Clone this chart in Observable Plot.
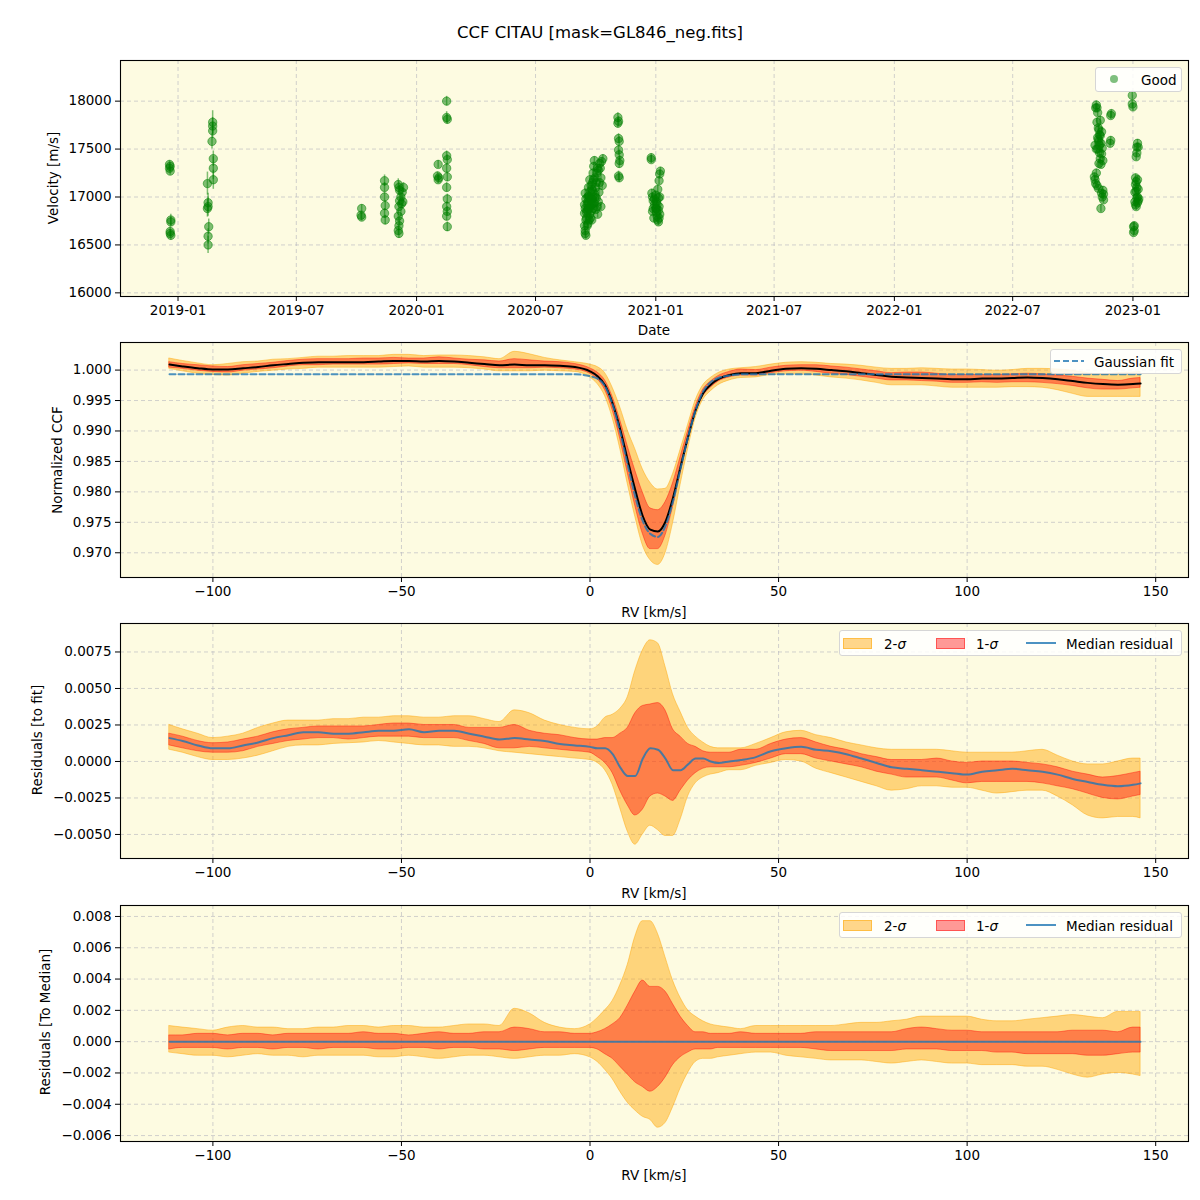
<!DOCTYPE html>
<html>
<head>
<meta charset="utf-8">
<script src="https://cdn.jsdelivr.net/npm/d3@7"></script>
<script src="https://cdn.jsdelivr.net/npm/@observablehq/plot@0.6"></script>
<style>
  html, body { margin: 0; padding: 0; background: #ffffff; }
  body { width: 1200px; height: 1200px; position: relative; font-family: "DejaVu Sans", sans-serif; color: #000; overflow: hidden; }
  .abs { position: absolute; }
  .lbl { position: absolute; font-size: 13.5px; white-space: nowrap; transform: translate(-50%, -50%); }
  .ylbl { position: absolute; font-size: 13.5px; white-space: nowrap; transform: translate(-50%, -50%) rotate(-90deg); }
  .legend { position: absolute; background: rgba(255,255,255,0.85); border: 1px solid #d6d6d6; border-radius: 3px; box-sizing: border-box; }
  .legtxt { position: absolute; font-size: 13.5px; white-space: nowrap; transform: translateY(-50%); }
</style>
</head>
<body>
<script>
// ---------------- data ----------------
const chartTitle = "CCF CITAU [mask=GL846_neg.fits]";

// Panel 1: observations (date, velocity m/s, error m/s)
const obsDate = [
"2018-12-19","2018-12-19","2018-12-20","2018-12-20","2018-12-21","2018-12-21","2018-12-20","2018-12-21","2018-12-20",
"2019-02-15","2019-02-16","2019-02-16","2019-02-15","2019-02-17","2019-02-16","2019-02-16","2019-02-23","2019-02-23","2019-02-23","2019-02-22","2019-02-24","2019-02-24","2019-02-24",
"2019-10-09","2019-10-09","2019-10-08",
"2019-11-13","2019-11-13","2019-11-13","2019-11-14","2019-11-13","2019-11-14",
"2019-12-04","2019-12-05","2019-12-06","2019-12-08","2019-12-06","2019-12-09","2019-12-05","2019-12-08","2019-12-04","2019-12-06","2019-12-05","2019-12-04","2019-12-05","2019-12-11","2019-12-10","2019-12-12",
"2020-02-03","2020-02-02","2020-02-03","2020-02-04",
"2020-02-16","2020-02-16","2020-02-17","2020-02-16","2020-02-17","2020-02-16","2020-02-17","2020-02-16","2020-02-17","2020-02-16","2020-02-17","2020-02-16","2020-02-17",
"2020-09-15","2020-09-16","2020-09-15","2020-09-14","2020-09-15","2020-09-14","2020-09-16","2020-09-15","2020-09-17","2020-09-18","2020-09-19","2020-09-20","2020-09-18","2020-09-21","2020-09-22","2020-09-23","2020-09-24","2020-09-25","2020-09-26","2020-09-27","2020-09-28","2020-09-29","2020-09-30","2020-10-01","2020-10-02","2020-10-03","2020-10-04","2020-10-05","2020-10-06","2020-10-07","2020-10-08","2020-10-10","2020-10-12","2020-10-11","2020-10-09","2020-09-25","2020-09-27","2020-10-03","2020-09-20","2020-10-04","2020-09-22","2020-09-24","2020-09-26","2020-09-29","2020-10-01",
"2020-09-14","2020-09-16","2020-09-17","2020-09-18","2020-09-19","2020-09-20","2020-09-21","2020-09-22","2020-09-23","2020-09-24","2020-09-25","2020-09-26","2020-09-27","2020-09-28","2020-09-30","2020-10-02","2020-10-05","2020-10-07","2020-09-19","2020-09-23","2020-09-28","2020-10-09",
"2020-11-04","2020-11-05","2020-11-04","2020-11-05","2020-11-06","2020-11-05","2020-11-06","2020-11-07","2020-11-06","2020-11-05","2020-11-06",
"2020-12-25","2020-12-25","2021-01-08","2021-01-07","2021-01-06","2020-12-26","2020-12-27","2020-12-28","2020-12-30","2021-01-01","2021-01-02","2021-01-03","2021-01-04","2021-01-05","2021-01-02","2021-01-05","2021-01-06","2020-12-29","2021-01-04","2021-01-07","2020-12-27",
"2020-12-30","2021-01-01","2021-01-03","2021-01-06","2021-01-07","2020-12-28","2021-01-02","2021-01-05",
"2022-11-06","2022-11-07","2022-11-08","2022-11-12","2022-11-29","2022-11-28","2022-11-10","2022-11-11","2022-11-09","2022-11-04","2022-11-06","2022-11-13","2022-11-15","2022-11-14","2022-11-12","2022-11-16","2022-11-28","2022-11-27","2022-11-03","2022-11-04","2022-11-05","2022-11-09","2022-11-16","2022-11-15","2022-11-17","2022-11-13","2022-11-08","2022-11-10","2022-11-14",
"2022-11-05","2022-11-07","2022-11-09","2022-11-08","2022-11-10","2022-11-11","2022-11-12","2022-11-13","2022-11-14","2022-11-06","2022-11-07","2022-11-17","2022-11-11",
"2022-12-31","2022-12-31","2023-01-01","2023-01-08","2023-01-09","2023-01-07","2023-01-06","2023-01-05","2023-01-06","2023-01-07","2023-01-04","2023-01-08","2023-01-09","2023-01-05","2023-01-10","2023-01-06","2023-01-02","2023-01-03","2023-01-02",
"2023-01-05","2023-01-06","2023-01-07","2023-01-08","2023-01-09","2023-01-04","2023-01-07","2023-01-03","2023-01-08"
];
const obsVel = [
17340,17300,17270,17320,16760,16740,16640,16600,16620,
17140,16940,16900,16880,16690,16590,16500,17780,17740,17690,17580,17400,17300,17180,
16880,16790,16810,
17170,17100,17000,16910,16830,16760,
17130,17100,17070,17000,16960,16930,16900,16850,16800,16750,16700,16650,16620,16950,17050,17100,
17340,17220,17180,17200,
18000,17830,17810,17430,17390,17300,17210,17100,16980,16900,16850,16800,16690,
16620,16600,16650,16830,16880,16920,16980,17040,16780,16860,16950,17010,16700,16760,16820,16900,16980,17080,17150,17250,17320,17380,17200,17100,16990,16900,16820,16950,17050,17150,17300,17370,17400,17120,16900,16760,16880,17250,17100,17300,17180,16850,16930,17030,16870,
16700,16760,16840,16920,17000,16880,16940,17000,17060,17120,16920,16980,17060,16940,17000,17150,17280,17350,16720,16780,17180,17200,
17830,17790,17770,17610,17580,17490,17440,17380,17350,17220,17200,
17410,17390,17270,17240,17170,17040,17000,16960,16920,16880,16840,16800,16760,16740,16950,16990,16900,16780,17080,16820,16850,
16980,17020,16920,16780,17000,16880,16880,16860,
17960,17930,17880,17800,17870,17850,17700,17650,17600,17540,17500,17560,17510,17450,17400,17380,17590,17560,17210,17180,17140,17090,17070,17000,16970,16880,17620,17350,17040,
17930,17780,17720,17500,17580,17460,17640,17340,17680,17250,17120,17030,17540,
18060,17970,17940,17560,17520,17460,17420,17200,17160,17100,17050,17000,16960,16920,16980,16900,16690,16650,16630,
17130,17060,16990,17180,17080,16950,17520,16700,16940
];
const obsErr = [
40,40,40,40,60,50,50,50,40,
120,100,100,90,80,80,90,120,90,80,80,80,120,100,
40,40,40,
60,50,50,50,50,50,
60,60,50,50,50,50,50,50,50,50,50,50,50,50,50,50,
40,40,40,40,
50,60,50,50,50,50,50,50,50,50,50,50,50,
40,40,40,40,40,40,40,40,40,40,40,40,40,40,40,40,40,40,40,40,40,40,40,40,40,40,40,40,40,40,40,40,40,40,40,40,40,40,40,40,40,40,40,40,40,
40,40,40,40,40,40,40,40,40,40,40,40,40,40,40,40,40,40,40,40,40,40,
50,50,50,50,50,50,50,50,50,50,50,
40,40,40,40,40,40,40,40,40,40,40,40,40,40,40,40,40,40,40,40,40,
40,40,40,40,40,40,40,40,
40,40,40,40,40,40,40,40,40,40,40,40,40,40,40,40,40,40,40,40,40,40,40,40,40,40,40,40,40,
40,40,40,40,40,40,40,40,40,40,40,40,40,
40,40,40,40,40,40,40,40,40,40,40,40,40,40,40,40,40,40,40,
40,40,40,40,40,40,40,40,40
];

// Panels 2-4: CCF vs RV [km/s]
const rv = [-111.5,-108,-104,-100,-96,-92,-88,-84,-80,-76,-72,-68,-64,-60,-56,-52,-48,-44,-40,-36,-32,-28,-24,-20,-16,-12,-8,-4,0,
  2,4,6,8,10,12,14,16,18,20,22,24,26,28,30,32,34,37,40,
  44,48,52,56,60,64,68,72,76,80,84,88,92,96,100,104,108,112,116,120,124,128,132,136,140,144,146];

const ccfMedian = [1.0009,1.0006,1.0003,1.0001,1.0001,1.0003,1.0005,1.0008,1.0010,1.0012,1.0013,1.0013,1.0013,1.0013,1.0014,1.0015,1.0015,1.0014,1.0015,1.0014,1.0012,1.0010,1.0008,1.0009,1.0008,1.0008,1.0007,1.0005,0.9998,
  0.9990,0.9975,0.9945,0.9903,0.9852,0.9803,0.9760,0.9738,0.9735,0.9751,0.9790,0.9841,0.9890,0.9934,0.9962,0.9976,0.9985,0.9992,0.9995,
  0.9995,0.9999,1.0002,1.0003,1.0002,1.0000,0.9998,0.9995,0.9992,0.9989,0.9988,0.9987,0.9986,0.9985,0.9985,0.9986,0.9986,0.9987,0.9988,0.9987,0.9985,0.9982,0.9979,0.9977,0.9976,0.9977,0.9978];

const gaussFit = [0.9993,0.9993,0.9993,0.9993,0.9993,0.9993,0.9993,0.9993,0.9993,0.9993,0.9993,0.9993,0.9993,0.9993,0.9993,0.9993,0.9993,0.9993,0.9993,0.9993,0.9993,0.9993,0.9993,0.9993,0.9993,0.9993,0.9993,0.9993,0.9990,
  0.9986,0.9973,0.9943,0.9898,0.9844,0.9792,0.9752,0.9731,0.9726,0.9744,0.9784,0.9838,0.9890,0.9934,0.9965,0.9980,0.9987,0.9991,0.9993,
  0.9993,0.9993,0.9993,0.9993,0.9993,0.9993,0.9993,0.9993,0.9993,0.9993,0.9993,0.9993,0.9993,0.9993,0.9993,0.9993,0.9993,0.9993,0.9993,0.9993,0.9993,0.9993,0.9993,0.9993,0.9993,0.9993,0.9993];

// Panel 3: residuals to fit
const residMedian = [0.0016,0.0014,0.0011,0.0009,0.0009,0.0011,0.0013,0.0016,0.0018,0.0020,0.0020,0.0019,0.0019,0.0020,0.0021,0.0021,0.0022,0.0020,0.0021,0.0021,0.0019,0.0017,0.0015,0.0016,0.0015,0.0014,0.0012,0.0011,0.0010,
  0.0009,0.0009,0.0005,-0.0004,-0.0010,-0.0010,0.0002,0.0009,0.0008,0.0002,-0.0006,-0.0006,-0.0002,0.0002,0.0002,0.0000,-0.0001,0.0000,0.0001,
  0.0003,0.0007,0.0009,0.0010,0.0008,0.0007,0.0005,0.0002,-0.0001,-0.0004,-0.0005,-0.0006,-0.0007,-0.0008,-0.0009,-0.0007,-0.0006,-0.0005,-0.0006,-0.0007,-0.0009,-0.0012,-0.0014,-0.0016,-0.0017,-0.0016,-0.0015];
const resid1Hi = [0.0019,0.0017,0.0014,0.00125,0.0013,0.0015,0.0017,0.0020,0.0022,0.0023,0.0024,0.0024,0.0024,0.0024,0.0025,0.0026,0.0026,0.0025,0.0025,0.0025,0.0023,0.0023,0.0023,0.0025,0.0021,0.0019,0.0018,0.0016,0.0015,
  0.0015,0.0016,0.0016,0.0019,0.0023,0.0033,0.0038,0.0039,0.0040,0.0035,0.0022,0.0017,0.0012,0.0010,0.0007,0.0006,0.0006,0.0006,0.0008,
  0.0008,0.0012,0.0015,0.0016,0.0013,0.0010,0.0008,0.0005,0.0003,0.0001,0.0001,0.0001,0.0002,0.0000,-0.0001,0.0000,0.0000,0.0000,-0.0001,-0.0002,-0.0004,-0.0007,-0.0009,-0.0011,-0.0010,-0.0008,-0.0007];
const resid1Lo = [0.0011,0.0009,0.0007,0.0006,0.0006,0.0007,0.0010,0.0012,0.0014,0.0015,0.0016,0.0016,0.0015,0.0016,0.0017,0.0017,0.0017,0.0016,0.0016,0.0016,0.0014,0.0012,0.0009,0.0009,0.0010,0.0009,0.0008,0.0007,0.0006,
  0.0003,-0.0001,-0.0008,-0.0020,-0.0030,-0.0037,-0.0033,-0.0024,-0.0022,-0.0024,-0.0027,-0.0020,-0.0013,-0.0008,-0.0005,-0.0004,-0.0004,-0.0004,-0.0003,
  -0.0001,0.0002,0.0005,0.0005,0.0002,0.0000,-0.0002,-0.0004,-0.0007,-0.0009,-0.0011,-0.0011,-0.0011,-0.0013,-0.0015,-0.0014,-0.0014,-0.0014,-0.0014,-0.0015,-0.0017,-0.0019,-0.0022,-0.0025,-0.0026,-0.0024,-0.0023];
const resid2Hi = [0.0025,0.0022,0.0019,0.0016,0.0017,0.0019,0.0023,0.0026,0.0028,0.0028,0.0028,0.0029,0.0029,0.0030,0.0030,0.0031,0.0031,0.0030,0.0030,0.0031,0.0031,0.0029,0.0027,0.0035,0.0033,0.0028,0.0025,0.0023,0.0022,
  0.0024,0.0030,0.0032,0.0036,0.0044,0.0062,0.0076,0.0083,0.0081,0.0065,0.0046,0.0034,0.0023,0.0017,0.0013,0.0010,0.0009,0.0009,0.0009,
  0.0012,0.0016,0.0020,0.0021,0.0018,0.0016,0.0013,0.0011,0.0009,0.0008,0.0008,0.0008,0.0008,0.0007,0.0006,0.0006,0.0006,0.0006,0.0007,0.0008,0.0004,0.0000,-0.0002,-0.0002,0.0000,0.0002,0.0002];
const resid2Lo = [0.0008,0.0006,0.0003,0.0001,0.0001,0.0002,0.0004,0.0007,0.0010,0.0011,0.0011,0.0012,0.00125,0.0013,0.0014,0.0013,0.0012,0.0011,0.0011,0.0010,0.0010,0.0009,0.0007,0.0006,0.0005,0.0004,0.0003,0.0002,0.0001,
  -0.0001,-0.0006,-0.0016,-0.0032,-0.0048,-0.0057,-0.0050,-0.0044,-0.0047,-0.0051,-0.0051,-0.0040,-0.0024,-0.0015,-0.0011,-0.0009,-0.0008,-0.0006,-0.0006,
  -0.0003,-0.0001,0.0001,0.0000,-0.0005,-0.0008,-0.0011,-0.0014,-0.0017,-0.0020,-0.0019,-0.0017,-0.0017,-0.0018,-0.0018,-0.0020,-0.0022,-0.0021,-0.0020,-0.0020,-0.0024,-0.0030,-0.0037,-0.0039,-0.0038,-0.0038,-0.0039];

// Panel 4: residuals to median (spread of individual CCFs around the median)
const dev1Hi = [0.0004,0.0004,0.0005,0.0005,0.0004,0.0005,0.0005,0.0004,0.0005,0.0005,0.0005,0.0005,0.0005,0.0006,0.0005,0.0005,0.0004,0.0005,0.0006,0.0005,0.0005,0.0006,0.0006,0.0009,0.0008,0.0006,0.0006,0.0005,0.0005,
  0.0006,0.0008,0.0011,0.0015,0.0023,0.0032,0.0039,0.0035,0.0035,0.0032,0.0024,0.0016,0.0010,0.0006,0.0006,0.0005,0.0005,0.0005,0.0006,
  0.0005,0.0005,0.0005,0.0005,0.0006,0.0006,0.0006,0.0006,0.0006,0.0006,0.0008,0.0009,0.0008,0.0007,0.0007,0.0006,0.0006,0.0006,0.0006,0.0006,0.0006,0.0007,0.0007,0.0007,0.0006,0.0009,0.0009];
const dev1Lo = [-0.0005,-0.0004,-0.0004,-0.0004,-0.0005,-0.0004,-0.0004,-0.0005,-0.0004,-0.0004,-0.0005,-0.0004,-0.0004,-0.0004,-0.0005,-0.0005,-0.0004,-0.0004,-0.0005,-0.0004,-0.0004,-0.0005,-0.0005,-0.0006,-0.0005,-0.0004,-0.0004,-0.0004,-0.0004,
  -0.0005,-0.0008,-0.0011,-0.0016,-0.0021,-0.0026,-0.0029,-0.0032,-0.0029,-0.0023,-0.0015,-0.0010,-0.0007,-0.0005,-0.0005,-0.0005,-0.0004,-0.0004,-0.0004,
  -0.0004,-0.0004,-0.0004,-0.0004,-0.0005,-0.0006,-0.0006,-0.0006,-0.0006,-0.0006,-0.0005,-0.0005,-0.0005,-0.0006,-0.0006,-0.0006,-0.0007,-0.0007,-0.0008,-0.0008,-0.0008,-0.0008,-0.0009,-0.0009,-0.0008,-0.0007,-0.0007];
const dev2Hi = [0.0010,0.0009,0.0008,0.0007,0.0009,0.0010,0.0009,0.0009,0.0008,0.0008,0.0009,0.0009,0.0010,0.0010,0.0009,0.0010,0.0010,0.0009,0.0009,0.0010,0.0011,0.0011,0.0010,0.0021,0.0018,0.0012,0.0009,0.0008,0.0011,
  0.0015,0.0020,0.0026,0.0036,0.0049,0.0067,0.0077,0.0077,0.0069,0.0054,0.0039,0.0028,0.0020,0.0016,0.0013,0.0011,0.0010,0.0009,0.0008,
  0.0010,0.0010,0.0010,0.0010,0.0010,0.0010,0.0011,0.0012,0.0012,0.0013,0.0014,0.0016,0.0016,0.0016,0.0016,0.0014,0.0013,0.0013,0.0014,0.0015,0.0016,0.0017,0.0016,0.0015,0.0019,0.0019,0.0019];
const dev2Lo = [-0.0007,-0.0008,-0.0009,-0.0009,-0.0010,-0.0009,-0.0008,-0.0009,-0.0009,-0.0010,-0.0009,-0.0009,-0.0009,-0.0009,-0.0010,-0.0010,-0.0009,-0.0010,-0.0011,-0.0010,-0.0009,-0.0009,-0.0010,-0.0011,-0.0010,-0.0009,-0.0009,-0.0008,-0.0010,
  -0.0013,-0.0018,-0.0024,-0.0032,-0.0039,-0.0044,-0.0048,-0.0050,-0.0055,-0.0052,-0.0042,-0.0030,-0.0020,-0.0013,-0.0011,-0.0011,-0.0010,-0.0009,-0.0008,
  -0.0007,-0.0007,-0.0009,-0.0010,-0.0011,-0.0012,-0.0012,-0.0012,-0.0013,-0.0014,-0.0013,-0.0012,-0.0013,-0.0014,-0.0014,-0.0015,-0.0015,-0.0015,-0.0016,-0.0016,-0.0018,-0.0021,-0.0023,-0.0021,-0.0020,-0.0021,-0.0022];

// tick labels
const dateTicks = ["2019-01-01","2019-07-01","2020-01-01","2020-07-01","2021-01-01","2021-07-01","2022-01-01","2022-07-01","2023-01-01"];
const velTicks = [16000,16500,17000,17500,18000];
const rvTicks = [-100,-50,0,50,100,150];
const ccfTicks = [0.970,0.975,0.980,0.985,0.990,0.995,1.000];
const residTicks = [-0.0050,-0.0025,0,0.0025,0.0050,0.0075];
const devTicks = [-0.006,-0.004,-0.002,0,0.002,0.004,0.006,0.008];

// ---------------- styling ----------------
const BG = "#fdfbe1";
const GRID = "#b8b8c0";
const ORANGE = "orange", RED = "red", C0 = "#1f77b4";
const FONT = "DejaVu Sans, sans-serif";
const fmtFixed = n => d => (d < 0 ? "\u2212" : "") + Math.abs(d).toFixed(n);
const fmtInt = d => (d < 0 ? "\u2212" : "") + Math.abs(d).toFixed(0);

function place(el, top) {
  el.style.position = "absolute";
  el.style.left = "0px";
  el.style.top = top + "px";
  document.body.appendChild(el);
}
function addDiv(cls, html, left, top, extra) {
  const d = document.createElement("div");
  d.className = cls;
  d.innerHTML = html;
  d.style.left = left + "px";
  d.style.top = top + "px";
  if (extra) Object.assign(d.style, extra);
  document.body.appendChild(d);
  return d;
}

function basePlot(opts) {
  const {frameH, x, y, xTicks, yTicks, xFmt, yFmt, marks} = opts;
  return Plot.plot({
    width: 1200,
    height: 10 + frameH + 46,
    marginLeft: 120, marginRight: 12, marginTop: 10, marginBottom: 46,
    style: {fontFamily: FONT, fontSize: "13.5px", color: "#000", background: "transparent", overflow: "visible"},
    x, y,
    marks: [
      Plot.frame({fill: BG}),
      Plot.gridX(xTicks, {stroke: GRID, strokeOpacity: 0.7, strokeWidth: 0.9, strokeDasharray: "4,3"}),
      Plot.gridY(yTicks, {stroke: GRID, strokeOpacity: 0.7, strokeWidth: 0.9, strokeDasharray: "4,3"}),
      ...marks,
      Plot.frame({stroke: "#000", strokeWidth: 1.1}),
      Plot.axisX(xTicks, {tickSize: 5, tickPadding: 4, tickFormat: xFmt, label: null, stroke: "#000"}),
      Plot.axisY(yTicks, {tickSize: 5, tickPadding: 4, tickFormat: yFmt, label: null, stroke: "#000"})
    ]
  });
}

// title
addDiv("lbl", chartTitle, 600, 32, {fontSize: "16.5px"});

// ---------------- Panel 1 ----------------
const obs = obsDate.map((d, i) => ({date: new Date(d), v: obsVel[i], e: obsErr[i]}));
const p1 = basePlot({
  frameH: 236,
  x: {type: "utc", domain: [new Date("2018-10-05"), new Date("2023-03-27")]},
  y: {domain: [15962, 18424]},
  xTicks: dateTicks.map(d => new Date(d)),
  yTicks: velTicks,
  xFmt: d3.utcFormat("%Y-%m"),
  yFmt: fmtInt,
  marks: [
    Plot.ruleX(obs, {x: "date", y1: d => d.v - d.e, y2: d => d.v + d.e, stroke: "green", strokeOpacity: 0.5, strokeWidth: 1.5}),
    Plot.dot(obs, {x: "date", y: "v", r: 4.2, fill: "green", fillOpacity: 0.5, stroke: "green", strokeOpacity: 0.5, strokeWidth: 1})
  ]
});
place(p1, 50);
addDiv("lbl", "Date", 654, 330);
addDiv("ylbl", "Velocity [m/s]", 53, 178);
{
  addDiv("legend", "", 1095, 67, {width: "87px", height: "25px"});
  addDiv("abs", "", 1110, 75, {width: "8px", height: "8px", borderRadius: "50%", background: "rgba(0,128,0,0.5)"});
  addDiv("legtxt", "Good", 1141, 79.5);
}

// ---------------- Panel 2 ----------------
const rows = rv.map((r, i) => ({
  rv: r, ccf: ccfMedian[i], fit: gaussFit[i],
  c1lo: ccfMedian[i] + dev1Lo[i], c1hi: ccfMedian[i] + dev1Hi[i],
  c2lo: ccfMedian[i] + dev2Lo[i], c2hi: ccfMedian[i] + dev2Hi[i],
  res: residMedian[i], r1lo: resid1Lo[i], r1hi: resid1Hi[i], r2lo: resid2Lo[i], r2hi: resid2Hi[i],
  d1lo: dev1Lo[i], d1hi: dev1Hi[i], d2lo: dev2Lo[i], d2hi: dev2Hi[i],
  zero: ccfMedian[i] - ccfMedian[i]
}));
const CURVE = "monotone-x";
const rvX = {domain: [-124.5, 158.7]};

function bands(lo2, hi2, lo1, hi1) {
  return [
    Plot.areaY(rows, {x: "rv", y1: lo2, y2: hi2, fill: ORANGE, fillOpacity: 0.45, stroke: ORANGE, strokeOpacity: 0.45, strokeWidth: 1, curve: CURVE}),
    Plot.areaY(rows, {x: "rv", y1: lo1, y2: hi1, fill: RED, fillOpacity: 0.4, stroke: RED, strokeOpacity: 0.4, strokeWidth: 1, curve: CURVE})
  ];
}

const p2 = basePlot({
  frameH: 235,
  x: rvX,
  y: {domain: [0.96594, 1.00453]},
  xTicks: rvTicks, yTicks: ccfTicks,
  xFmt: fmtInt, yFmt: fmtFixed(3),
  marks: [
    ...bands("c2lo", "c2hi", "c1lo", "c1hi"),
    Plot.lineY(rows, {x: "rv", y: "ccf", stroke: "#000", strokeWidth: 2, curve: CURVE}),
    Plot.lineY(rows, {x: "rv", y: "fit", stroke: C0, strokeOpacity: 0.8, strokeWidth: 2, strokeDasharray: "6,3", curve: CURVE})
  ]
});
place(p2, 332);
addDiv("lbl", "RV [km/s]", 654, 612);
addDiv("ylbl", "Normalized CCF", 57, 460);
{
  addDiv("legend", "", 1050, 349, {width: "132px", height: "25px"});
  const sv = `<svg width="30" height="6"><line x1="0" y1="3" x2="30" y2="3" stroke="${C0}" stroke-opacity="0.8" stroke-width="2" stroke-dasharray="6,3"/></svg>`;
  addDiv("abs", sv, 1054, 358, {lineHeight: "0"});
  addDiv("legtxt", "Gaussian fit", 1094, 361.5);
}

// ---------------- Panel 3 ----------------
function sigmaLegend(top) {
  addDiv("legend", "", 839, top, {width: "343px", height: "26px"});
  const cy = top + 13;
  addDiv("abs", "", 843, cy - 5.5, {width: "29px", height: "11px", background: "rgba(255,165,0,0.45)", border: "1px solid rgba(255,165,0,0.5)", boxSizing: "border-box"});
  addDiv("legtxt", "2-<i>σ</i>", 884, cy + 0.5);
  addDiv("abs", "", 936, cy - 5.5, {width: "29px", height: "11px", background: "rgba(255,0,0,0.4)", border: "1px solid rgba(255,0,0,0.45)", boxSizing: "border-box"});
  addDiv("legtxt", "1-<i>σ</i>", 976, cy + 0.5);
  const sv = `<svg width="30" height="6"><line x1="0" y1="3" x2="30" y2="3" stroke="${C0}" stroke-opacity="0.8" stroke-width="2"/></svg>`;
  addDiv("abs", sv, 1026, cy - 3, {lineHeight: "0"});
  addDiv("legtxt", "Median residual", 1066, cy + 0.5);
}

const p3 = basePlot({
  frameH: 235,
  x: rvX,
  y: {domain: [-0.006646, 0.00945]},
  xTicks: rvTicks, yTicks: residTicks,
  xFmt: fmtInt, yFmt: fmtFixed(4),
  marks: [
    ...bands("r2lo", "r2hi", "r1lo", "r1hi"),
    Plot.lineY(rows, {x: "rv", y: "res", stroke: C0, strokeOpacity: 0.8, strokeWidth: 2, curve: CURVE})
  ]
});
place(p3, 613);
addDiv("lbl", "RV [km/s]", 654, 893);
addDiv("ylbl", "Residuals [to fit]", 37, 740);
sigmaLegend(630);

// ---------------- Panel 4 ----------------
const p4 = basePlot({
  frameH: 236,
  x: rvX,
  y: {domain: [-0.00638, 0.0087]},
  xTicks: rvTicks, yTicks: devTicks,
  xFmt: fmtInt, yFmt: fmtFixed(3),
  marks: [
    ...bands("d2lo", "d2hi", "d1lo", "d1hi"),
    Plot.lineY(rows, {x: "rv", y: "zero", stroke: C0, strokeOpacity: 0.8, strokeWidth: 2})
  ]
});
place(p4, 895);
addDiv("lbl", "RV [km/s]", 654, 1175);
addDiv("ylbl", "Residuals [To Median]", 45, 1022);
sigmaLegend(912);
</script>
</body>
</html>
